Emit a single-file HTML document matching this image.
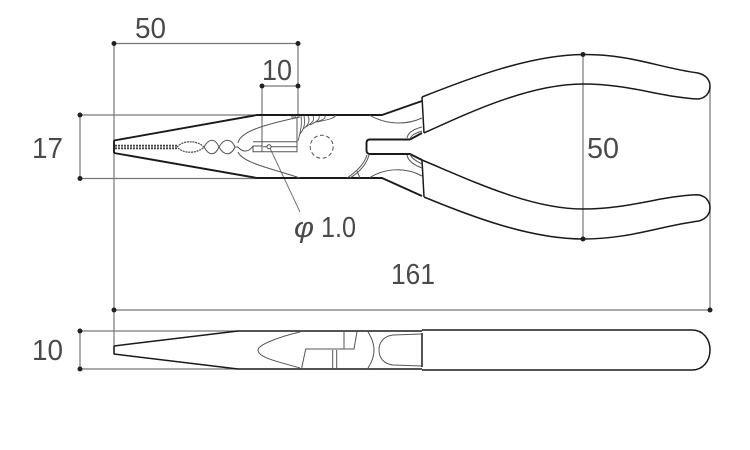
<!DOCTYPE html>
<html><head><meta charset="utf-8"><style>
html,body{margin:0;padding:0;background:#fff;width:750px;height:450px;overflow:hidden}
svg{display:block}
text{font-family:"Liberation Sans",sans-serif;font-size:29px;fill:#4a4a4a}
.d{stroke:#777;stroke-width:1.2;fill:none}
.k{stroke:#1a1a1a;stroke-width:1.5;fill:none;stroke-linejoin:round}
.t{stroke:#555;stroke-width:1;fill:none}
</style></head><body>
<svg width="750" height="450" viewBox="0 0 750 450" xmlns="http://www.w3.org/2000/svg">
<!-- dimension lines -->
<g class="d">
<path d="M114 43.5H298M114 43.5V355M298 43.5V117M262 86H298M262 86V146"/>
<path d="M80 115H257M80 178.5H257M80 115V178.5"/>
<path d="M114 310H710M710 86V310M583 54.5V239"/>
<path d="M80 331H238M80 369H238M80 331V369"/>
<path d="M269 146L300 212" stroke-width="1"/>
</g>
<g fill="#222">
<circle cx="114" cy="43.5" r="2.5"/><circle cx="298" cy="43.5" r="2.5"/>
<circle cx="262" cy="86" r="2.5"/><circle cx="298" cy="86" r="2.5"/>
<circle cx="80" cy="115" r="2.5"/><circle cx="80" cy="178.5" r="2.5"/>
<circle cx="114" cy="310" r="2.5"/><circle cx="710" cy="310" r="2.5"/>
<circle cx="583" cy="54.5" r="2.5"/><circle cx="583" cy="239" r="2.5"/>
<circle cx="80" cy="331" r="2.5"/><circle cx="80" cy="369" r="2.5"/>
</g>
<!-- top view outline -->
<g class="k">
<path d="M114 140.5L257 115H382L422 101" stroke-width="1.9"/>
<path d="M114 153L257 178H382L422 196" stroke-width="1.9"/>
<path d="M114 140.5V153" stroke-width="1.9"/>
<path d="M422 97L424 133M422 160L424 197"/>
<path d="M422 97C470 78 530 55 583 54.5C630 54 660 68 698 73C706 75 710 80 710 86C710 93 705 99 697 99C660 97 630 84 583 84C530 84 470 112 424 133"/>
<path d="M422 160C470 180 530 209 583 209C630 209 660 196 697 194.7C705 195 710 201 710 208C710 214 706 219 699 221C660 226 630 239 583 239C530 239 470 216 424 197"/>
<path d="M410 139.5H370Q366.5 139.5 366.5 143V150Q366.5 154 370 154H410L422 160M410 139.5L422 133" stroke-width="1.9"/>
</g>
<g class="t">
<path d="M370 115.500C387 125 407 125 422 118"/>
<path d="M370 177.500C387 167 407 168 422 176"/>
<path d="M407 138C408 132 414 129 422 127M410 139C411 135 416 133 422 131"/>
<path d="M407 155C408 161 414 165 422 168M410 154C411 158 416 161 422 164"/>
<path d="M367 155C364 165 356 172 347 178M369 155C366 166 358 173 350 178M357 171L360 178"/>
<path d="M238 143C240 132 262 125 300 117"/>
<path d="M238 152C243 163 270 168 300 178"/>
<path d="M238 147C243 153 249 152 253 146H262V151.700M253 141.700H297V151.700H253V146M263 146.700H297"/>
<path d="M297 117V141.700M296 117H291"/>
<circle cx="269" cy="146.700" r="2" fill="#fff"/>
<path d="M204 147C209 138 215 138 219 147C215 156 209 156 204 147Z"/>
<path d="M219 147C224 138 231 138 235 147C231 156 224 156 219 147Z"/>
<path d="M235 147L238 147"/>
<path d="M177 147C183 140 197 140 204 147C197 154 183 154 177 147Z" stroke-dasharray="2 .8" stroke-width="1.3"/>
<path d="M115 147H177" stroke-width="4.500" stroke-dasharray="2 1" stroke="#444"/>
<path d="M115 147H177" stroke="#fff" stroke-width=".8"/>
<circle cx="321.700" cy="146.700" r="11.500" stroke-dasharray="4 2.500"/>
<path d="M298 141C301 130 302 124 301 116M300 134C305 128 305 122 304 116M303 129C309 125 310 120 308 116M306 127C313 122 315 120 313 116M310 125C318 121 320 119 319 116M313 123C322 120 326 119 325 116M317 122C326 120 334 119 336 115" stroke-width=".9"/>
</g>
<!-- bottom view -->
<g class="k">
<path d="M114 346L238 331H422M114 354L238 369H422"/>
<path d="M114 346V354"/>
<path d="M422 333V367"/>
<path d="M422 330H692C703 330 710 339 710 350C710 361 703 370 692 370H422"/>
</g>
<g class="t" stroke-width="1.100">
<path d="M300 368C280 362 258 358 258 350C258 345 278 337 300 332"/>
<path d="M301.700 368L305.700 349H354L357 331.700M344 332V349"/>
<path d="M332.700 350V368M336.700 350V368"/>
<path d="M368 332C376 344 376 356 368 368"/>
<path d="M421.700 334L393 335C384 336 379 342 379 350C379 358 384 364 393 365L421.700 366"/>
</g>
<!-- labels -->
<text x="135" y="38" textLength="31" lengthAdjust="spacingAndGlyphs">50</text>
<text x="262" y="80" textLength="30" lengthAdjust="spacingAndGlyphs">10</text>
<text x="32" y="158" textLength="31" lengthAdjust="spacingAndGlyphs">17</text>
<text x="587" y="158" textLength="32" lengthAdjust="spacingAndGlyphs">50</text>
<text x="294" y="237" font-style="italic" textLength="20" lengthAdjust="spacingAndGlyphs">φ</text>
<text x="321" y="237" textLength="35" lengthAdjust="spacingAndGlyphs">1.0</text>
<text x="391" y="284" textLength="44" lengthAdjust="spacingAndGlyphs">161</text>
<text x="32" y="360" textLength="31" lengthAdjust="spacingAndGlyphs">10</text>
</svg>
</body></html>
